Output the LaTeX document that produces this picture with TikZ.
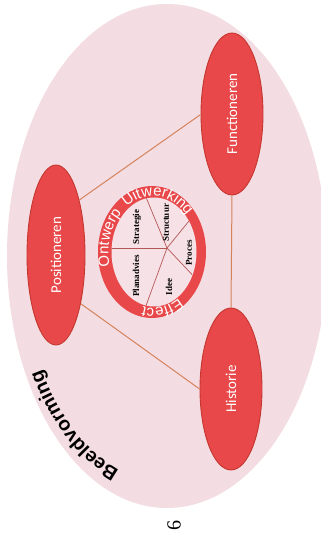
\documentclass[tikz,border=0pt]{standalone}
\usepackage{fontspec}
\setmainfont{Liberation Serif}
\newfontfamily\labfont{Carlito}
\newfontfamily\ringfont{Liberation Sans}
\usetikzlibrary{shapes.geometric,decorations.text,calc}
\definecolor{bgpink}{HTML}{F4DCE3}
\definecolor{redfill}{HTML}{E8484A}
\definecolor{rededge}{HTML}{C4372F}
\definecolor{linkcol}{HTML}{D4835A}
\definecolor{discpink}{HTML}{F6E1E6}
\definecolor{spokecol}{HTML}{B45656}
\begin{document}
\begin{tikzpicture}[x=1pt,y=1pt,
  bubble/.style={ellipse, fill=redfill, draw=rededge, line width=0.9pt, inner sep=0pt,
     text=white, font=\labfont\fontsize{15}{15}\selectfont},
  link/.style={linkcol, line width=1pt},
  spoke/.style={spokecol, line width=0.7pt},
  sector/.style={rotate=90, inner sep=0pt, font=\bfseries\fontsize{9}{9}\selectfont, text=black}
]
\useasboundingbox (0,0) rectangle (321,533);
\fill[white] (0,0) rectangle (321,533);
% big pink ellipse
\fill[bgpink] (167,277) ellipse [x radius=160, y radius=252];
% Beeldvorming along the edge
\path[decorate, decoration={text along path, text align=center,
   text={|\ringfont\bfseries\fontsize{19.5}{19.5}\selectfont|Beeldvorming}}]
   ($(167,277)+(-92:145 and 227)$) arc[start angle=-92, end angle=-162, x radius=145, y radius=227];
% bubbles
\node[bubble, minimum width=58pt, minimum height=180pt] (pos) at (56,278) {\rotatebox{90}{Positioneren}};
\node[bubble, minimum width=62pt, minimum height=162pt] (func) at (232,419) {\rotatebox{90}{Functioneren}};
\node[bubble, minimum width=62pt, minimum height=162pt] (hist) at (231,144) {\rotatebox{90}{Historie}};
% links
\draw[link] (pos.67) -- (func.181);
\draw[link] (pos.-63) -- (hist.180);
\draw[link] (func.south) -- (hist.north);
% ring
\fill[redfill] (152,281) ellipse [x radius=54, y radius=66];
\fill[discpink] (154,281) ellipse [x radius=42.5, y radius=54.5];
\begin{scope}
  \clip (154,281) ellipse [x radius=42.5, y radius=54.5];
  \coordinate (hub) at (167,285);
  \foreach \a in {180,112.5,50.8,-46.7,-110} \draw[spoke] (hub) -- ++(\a:90);
\end{scope}
% ring texts
\path[decorate, decoration={text along path, text align=center, text color=white,
   text={|\ringfont\fontsize{15}{15}\selectfont|Ontwerp}}]
   ($(153,281)+(213.5:44.5 and 56)$) arc[start angle=213.5, end angle=113.5, x radius=44.5, y radius=56];
\path[decorate, decoration={text align=center, text along path, text color=white,
   text={|\ringfont\fontsize{15}{15}\selectfont|Uitwerking}}]
   ($(153,281)+(144:44.5 and 56)$) arc[start angle=144, end angle=24, x radius=44.5, y radius=56];
\path[decorate, decoration={text along path, text align=center, text color=white,
   text={|\ringfont\fontsize{15}{15}\selectfont|Effect}}]
   ($(153,281)+(-30:44.5 and 56)$) arc[start angle=-30, end angle=-130, x radius=44.5, y radius=56];
% sector labels
\node[sector] (strat) at (137,306) {Strategie};
\node[sector] (plan) at (136,257) {Planadvies};
\node[sector] (struc) at (166,310) {Structuur};
\node[sector] (proc) at (189,280) {Proces};
\node[sector] (idee) at (169,246) {Idee};
% page number
\node[rotate=90, font=\fontsize{20}{20}\selectfont, inner sep=0pt] (pg) at (174,7) {6};
\end{tikzpicture}
\end{document}
